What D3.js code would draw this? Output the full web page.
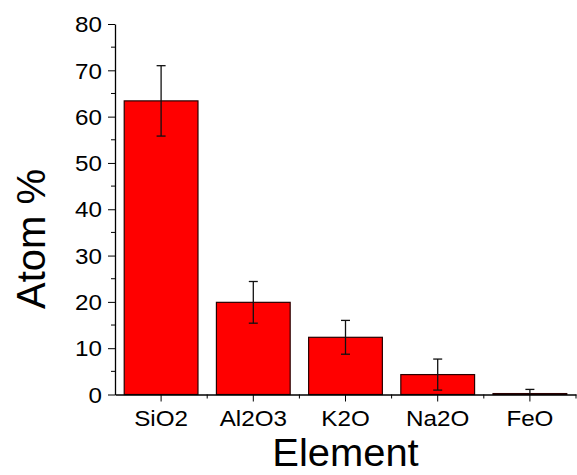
<!DOCTYPE html>
<html><head><meta charset="utf-8">
<script src="https://cdn.jsdelivr.net/npm/d3@7"></script>
<style>body{margin:0;background:#fff}svg{display:block}text{font-family:"Liberation Sans",Arial,sans-serif;fill:#000}</style>
</head><body>
<svg id="c" width="577" height="475"></svg>
<script>
const categories = ["SiO2","Al2O3","K2O","Na2O","FeO"];
const values = [63.4, 19.9, 12.35, 4.3, 0.2];
const errors = [7.6, 4.5, 3.65, 3.35, 0.9];
const yTicks = [0,10,20,30,40,50,60,70,80];

const svg = d3.select("#c");
const L=115, R=576, T=24, B=394.5;
const x = d3.scaleBand().domain(categories).range([L,R]).paddingInner(0.2).paddingOuter(0.1);
const y = d3.scaleLinear().domain([0,80]).range([B,T]);
const SX = 1.1;

const g = svg.append("g");
g.selectAll("rect.bar").data(categories).join("rect")
  .attr("x", d=>x(d)).attr("width", x.bandwidth())
  .attr("y", (d,i)=>y(values[i])).attr("height",(d,i)=>y(0)-y(values[i]))
  .attr("fill","#ff0000").attr("stroke","#2a0000").attr("stroke-width",1.2);

const eb = g.selectAll("g.err").data(categories).join("g").attr("stroke","#111").attr("stroke-width",1.3);
eb.append("line").attr("x1",d=>x(d)+x.bandwidth()/2).attr("x2",d=>x(d)+x.bandwidth()/2)
  .attr("y1",(d,i)=>y(values[i]+errors[i])).attr("y2",(d,i)=>Math.min(y(0),y(values[i]-errors[i])));
eb.append("line").attr("x1",d=>x(d)+x.bandwidth()/2-4.5).attr("x2",d=>x(d)+x.bandwidth()/2+4.5)
  .attr("y1",(d,i)=>y(values[i]+errors[i])).attr("y2",(d,i)=>y(values[i]+errors[i]));
eb.filter((d,i)=>values[i]-errors[i]>=0).append("line").attr("x1",d=>x(d)+x.bandwidth()/2-4.5).attr("x2",d=>x(d)+x.bandwidth()/2+4.5)
  .attr("y1",(d,i)=>y(values[i]-errors[i])).attr("y2",(d,i)=>y(values[i]-errors[i]));

const yAxis = d3.axisLeft(y).tickValues(yTicks).tickSize(7).tickPadding(6).tickSizeOuter(0);
const ya = svg.append("g").attr("transform",`translate(${L},0)`).call(yAxis);
ya.selectAll("text").style("font-size","22px").attr("dy","0.35em")
  .attr("x",-13/SX).attr("transform",`scale(${SX},1)`);
ya.selectAll("line.minor").data(d3.range(5,80,10)).join("line").attr("class","minor")
  .attr("x1",-4).attr("x2",0).attr("y1",d=>y(d)).attr("y2",d=>y(d)).attr("stroke","#000");

const xAxis = d3.axisBottom(x).tickSize(7).tickPadding(9).tickSizeOuter(0);
const xa = svg.append("g").attr("transform",`translate(0,${B})`).call(xAxis);
xa.selectAll("text").style("font-size","22px").attr("transform",`scale(${SX},1)`);
xa.selectAll("line.minor").data(categories).join("line").attr("class","minor")
  .attr("x1",(d,i)=>L+(i+1)*x.step()).attr("x2",(d,i)=>L+(i+1)*x.step()).attr("y1",0).attr("y2",4).attr("stroke","#000");
svg.selectAll(".domain").attr("stroke","#000").attr("stroke-width",1.3);
svg.selectAll(".tick line").attr("stroke","#000");

svg.append("text").attr("x",(L+R)/2).attr("y",466.5).attr("text-anchor","middle").style("font-size","38px")
  .attr("transform",`translate(${(L+R)/2*(1-1.05)},0) scale(1.05,1)`).text("Element");
svg.append("text").attr("transform","translate(45,239) rotate(-90)").attr("text-anchor","middle").style("font-size","40px").text("Atom %");
</script>
</body></html>
